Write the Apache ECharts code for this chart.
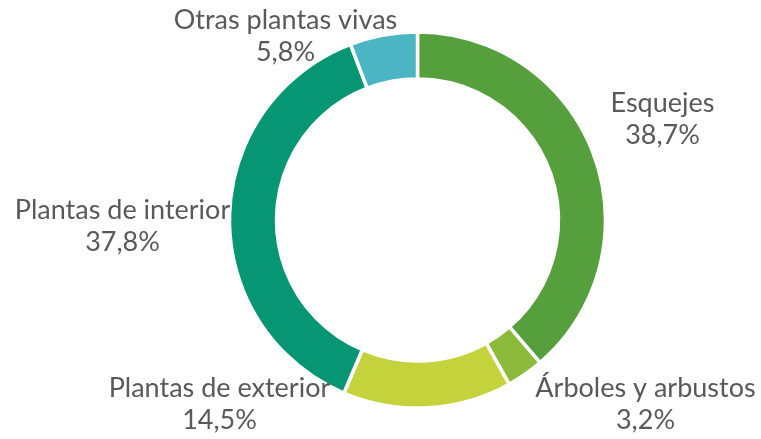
<!DOCTYPE html>
<html>
<head>
<meta charset="utf-8">
<script src="https://cdn.jsdelivr.net/npm/echarts@6/dist/echarts.min.js"></script>
<style>
  html, body { margin: 0; padding: 0; background: #ffffff; }
  #chart { width: 761px; height: 439px; }
</style>
</head>
<body>
<div id="chart"></div>
<script>
// Share of each product group (%)
const categories = ['Esquejes', 'Árboles y arbustos', 'Plantas de exterior', 'Plantas de interior', 'Otras plantas vivas'];
const shares = [38.7, 3.2, 14.5, 37.8, 5.8];
const colors = ['#55a03c', '#8cba3a', '#c4d33b', '#069673', '#4bb5c4'];

// Label anchor offsets from the ring centre (px), one per category
const labelOffsets = [[245, -101], [228, 184], [-198, 184], [-295, 6], [-132, -184]];
const centre = [417.5, 220];

const chart = echarts.init(document.getElementById('chart'), null, { renderer: 'canvas' });

chart.setOption({
  animation: false,
  backgroundColor: '#ffffff',
  series: [{
    type: 'pie',
    center: centre,
    radius: [141, 188],
    startAngle: 90,
    clockwise: true,
    avoidLabelOverlap: false,
    itemStyle: { borderColor: '#ffffff', borderWidth: 3.5 },
    label: {
      show: true,
      position: 'outside',
      fontFamily: 'Lato',
      fontSize: 27,
      lineHeight: 32,
      color: '#595959',
      align: 'center',
      formatter: p => p.name + '\n' + p.value.toFixed(1).replace('.', ',') + '%'
    },
    labelLine: { show: false },
    labelLayout: params => {
      const o = labelOffsets[params.dataIndex];
      return {
        x: centre[0] + o[0],
        y: centre[1] + o[1],
        align: 'center',
        verticalAlign: 'middle'
      };
    },
    emphasis: { disabled: true },
    data: categories.map((c, i) => ({ name: c, value: shares[i], itemStyle: { color: colors[i] } }))
  }]
});
</script>
</body>
</html>
